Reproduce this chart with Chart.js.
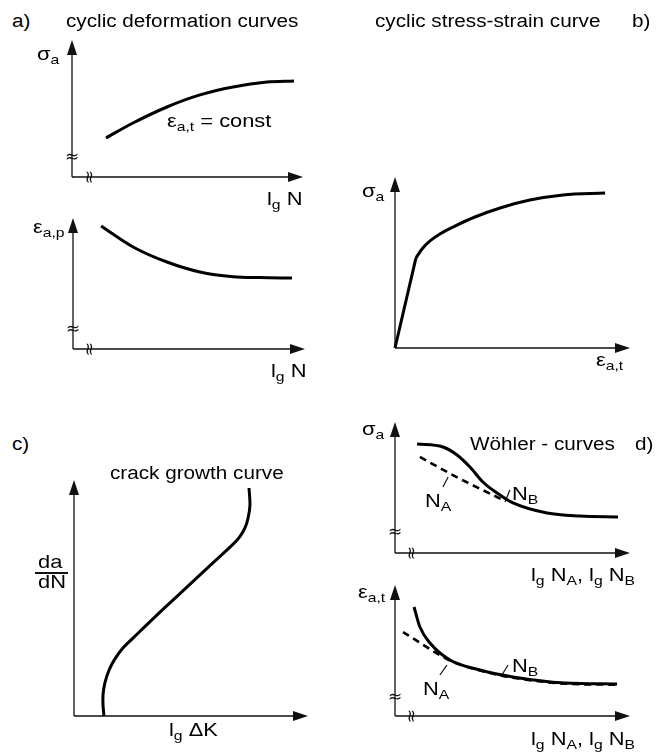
<!DOCTYPE html>
<html>
<head>
<meta charset="utf-8">
<script src="https://cdn.jsdelivr.net/npm/chart.js@4/dist/chart.umd.min.js"></script>
<style>
  body { margin: 0; background: #fff; width: 657px; height: 753px; position: relative; overflow: hidden;
         font-family: "Liberation Sans", Arial, sans-serif; color: #000; }
  canvas { position: absolute; }
  .lbl { position: absolute; white-space: nowrap; line-height: 1; transform: scaleX(1.15); transform-origin: 0 0; }
  .lbl sub { font-size: 0.72em; vertical-align: baseline; position: relative; top: 0.32em; }
  .bar { position: absolute; height: 1.5px; background: #111; }
</style>
</head>
<body>
<canvas id="a1"></canvas>
<canvas id="a2"></canvas>
<canvas id="b"></canvas>
<canvas id="c"></canvas>
<canvas id="d1"></canvas>
<canvas id="d2"></canvas>
<script>
// all axes run 0..10 from the origin to the arrow tip

// a) cyclic deformation curves
const deformX = [1.47, 2.64, 4.11, 5.54, 6.97, 8.44, 9.61];
const deformSigma = [2.85, 3.94, 5.11, 5.99, 6.57, 6.93, 7.01];
const plasticX = [1.21, 2.59, 4.05, 5.47, 6.90, 8.06, 9.44];
const plasticEps = [9.39, 7.79, 6.64, 5.88, 5.52, 5.45, 5.42];

// b) cyclic stress-strain curve
const elasticX = [0, 0.89];
const elasticSigma = [0, 5.26];
const cssX = [0.89, 1.15, 1.49, 1.91, 2.55, 3.40, 4.47, 5.74, 7.15, 8.94];
const cssSigma = [5.26, 5.79, 6.26, 6.67, 7.13, 7.66, 8.19, 8.65, 8.95, 9.06];

// c) crack growth curve
const crackDK = [1.28, 1.24, 1.24, 1.32, 1.50, 1.75, 2.09, 2.52, 2.95, 3.89, 4.87, 5.81, 6.79, 7.09, 7.31, 7.44, 7.52, 7.48];
const crackRate = [0, 0.47, 0.89, 1.40, 1.95, 2.42, 2.88, 3.30, 3.71, 4.60, 5.50, 6.37, 7.27, 7.60, 7.98, 8.39, 8.94, 9.66];

// d) Wöhler curves, stress amplitude
const wsBX = [0.94, 2.04, 2.64, 3.19, 3.74, 4.34, 5.02, 6.47, 7.87, 9.49];
const wsBY = [8.32, 8.09, 7.48, 6.56, 5.42, 4.58, 3.82, 3.05, 2.82, 2.75];
const wsAX = [1.06, 2.68, 4.68];
const wsAY = [7.33, 5.73, 3.97];

// d) Wöhler curves, strain amplitude
const weBX = [0.81, 1.06, 1.49, 2.34, 3.62, 5.02, 7.23, 9.45];
const weBY = [8.32, 6.79, 5.57, 4.27, 3.51, 2.98, 2.52, 2.44];
const weAX = [0.34, 2.34, 3.62, 5.02, 7.23, 9.45];
const weAY = [6.41, 4.24, 3.47, 2.93, 2.47, 2.39];

// leader lines from labels to curves
const leadSA = [[2.04, 5.04], [2.26, 5.80]];
const leadSB = [[4.68, 3.89], [4.89, 4.81]];
const leadEA = [[1.91, 3.13], [2.21, 3.89]];
const leadEB = [[4.55, 3.13], [4.81, 3.89]];

const arrowAxes = {
    id: 'arrowAxes',
    beforeDatasetsDraw(chart, args, opts) {
        const { ctx, chartArea: { left, right, top, bottom }, scales: { x, y } } = chart;
        ctx.save();
        ctx.strokeStyle = '#111';
        ctx.fillStyle = '#111';
        ctx.lineWidth = 1.3;
        ctx.beginPath();
        ctx.moveTo(left, bottom); ctx.lineTo(right - 10, bottom);
        ctx.moveTo(left, bottom); ctx.lineTo(left, top + 10);
        ctx.stroke();
        ctx.beginPath();
        ctx.moveTo(right, bottom); ctx.lineTo(right - 15, bottom - 5); ctx.lineTo(right - 15, bottom + 5);
        ctx.closePath(); ctx.fill();
        ctx.beginPath();
        ctx.moveTo(left, top); ctx.lineTo(left - 5, top + 15); ctx.lineTo(left + 5, top + 15);
        ctx.closePath(); ctx.fill();
        ctx.font = '17px "DejaVu Sans"';
        ctx.textAlign = 'center';
        ctx.textBaseline = 'middle';
        if (opts.yBreak != null) ctx.fillText('≈', left, y.getPixelForValue(opts.yBreak));
        if (opts.xBreak != null) {
            ctx.translate(x.getPixelForValue(opts.xBreak), bottom);
            ctx.rotate(Math.PI / 2);
            ctx.fillText('≈', 0, 0);
        }
        ctx.restore();
    }
};

const line = (xs, ys, extra) => ({
    data: xs.map((x, i) => ({ x, y: ys[i] })),
    showLine: true,
    borderColor: '#000',
    borderWidth: 3,
    pointRadius: 0,
    cubicInterpolationMode: 'monotone',
    clip: false,
    ...extra
});
const leader = (pts) => ({
    data: pts.map(p => ({ x: p[0], y: p[1] })),
    showLine: true, borderColor: '#111', borderWidth: 1.2, pointRadius: 0, clip: false
});

function panel(id, geo, datasets, breaks) {
    const [ox, oy, tx, ty] = geo;
    const P = 16;
    const cv = document.getElementById(id);
    cv.width = tx - ox + 2 * P;
    cv.height = oy - ty + 2 * P;
    cv.style.left = (ox - P) + 'px';
    cv.style.top = (ty - P) + 'px';
    new Chart(cv, {
        type: 'scatter',
        data: { datasets },
        options: {
            responsive: false,
            animation: false,
            events: [],
            layout: { padding: P },
            scales: {
                x: { type: 'linear', min: 0, max: 10, display: false },
                y: { type: 'linear', min: 0, max: 10, display: false }
            },
            plugins: { legend: { display: false }, tooltip: { enabled: false }, arrowAxes: breaks || {} }
        },
        plugins: [arrowAxes]
    });
}

panel('a1', [72, 177, 303, 40], [line(deformX, deformSigma)], { yBreak: 1.39, xBreak: 0.69 });
panel('a2', [73, 349, 305, 218], [line(plasticX, plasticEps)], { yBreak: 1.45, xBreak: 0.65 });
panel('b', [395, 348, 630, 177], [
    line(elasticX, elasticSigma, { cubicInterpolationMode: 'default', tension: 0 }),
    line(cssX, cssSigma)
]);
panel('c', [74, 716, 308, 480], [line(crackDK, crackRate, { cubicInterpolationMode: 'default', tension: 0.3 })]);
panel('d1', [395, 553, 630, 422], [
    line(wsBX, wsBY),
    line(wsAX, wsAY, { borderDash: [7, 5], borderWidth: 2.6, cubicInterpolationMode: 'default', tension: 0 }),
    leader(leadSA), leader(leadSB)
], { yBreak: 1.53, xBreak: 0.64 });
panel('d2', [395, 716, 630, 585], [
    line(weBX, weBY),
    line(weAX, weAY, { borderDash: [7, 5], borderWidth: 2.6 }),
    leader(leadEA), leader(leadEB)
], { yBreak: 1.37, xBreak: 0.64 });

// text labels: [html, left, baseline, font size]
const texts = [
    ['a)', 12, 27, 18],
    ['cyclic deformation curves', 66, 27, 18],
    ['cyclic stress-strain curve', 375, 27, 18],
    ['b)', 632, 27, 18],
    ['σ<sub>a</sub>', 37, 60, 19],
    ['ε<sub>a,t</sub> = const', 167, 127, 19],
    ['l<sub>g</sub> N', 267, 205, 19],
    ['ε<sub>a,p</sub>', 33, 233, 19],
    ['l<sub>g</sub> N', 271, 377, 19],
    ['σ<sub>a</sub>', 362, 197, 19],
    ['ε<sub>a,t</sub>', 596, 366, 19],
    ['c)', 12, 450, 18],
    ['crack growth curve', 110, 479, 18],
    ['da', 38, 568, 19],
    ['dN', 38, 588, 19],
    ['l<sub>g</sub> ΔK', 169, 736, 19],
    ['σ<sub>a</sub>', 362, 435, 19],
    ['Wöhler - curves', 470, 450, 18],
    ['d)', 635, 450, 18],
    ['N<sub>A</sub>', 425, 507, 19],
    ['N<sub>B</sub>', 512, 500, 19],
    ['l<sub>g</sub> N<sub>A</sub>, l<sub>g</sub> N<sub>B</sub>', 531, 581, 19],
    ['ε<sub>a,t</sub>', 358, 598, 19],
    ['N<sub>B</sub>', 512, 672, 19],
    ['N<sub>A</sub>', 423, 695, 19],
    ['l<sub>g</sub> N<sub>A</sub>, l<sub>g</sub> N<sub>B</sub>', 531, 745, 19]
];
texts.forEach(([html, x, base, size]) => {
    const d = document.createElement('div');
    d.className = 'lbl';
    d.innerHTML = html;
    d.style.fontSize = size + 'px';
    d.style.left = x + 'px';
    d.style.top = (base - 0.85 * size) + 'px';
    document.body.appendChild(d);
});
const bar = document.createElement('div');
bar.className = 'bar';
bar.style.left = '35px';
bar.style.top = '572px';
bar.style.width = '33px';
document.body.appendChild(bar);
</script>
</body>
</html>
